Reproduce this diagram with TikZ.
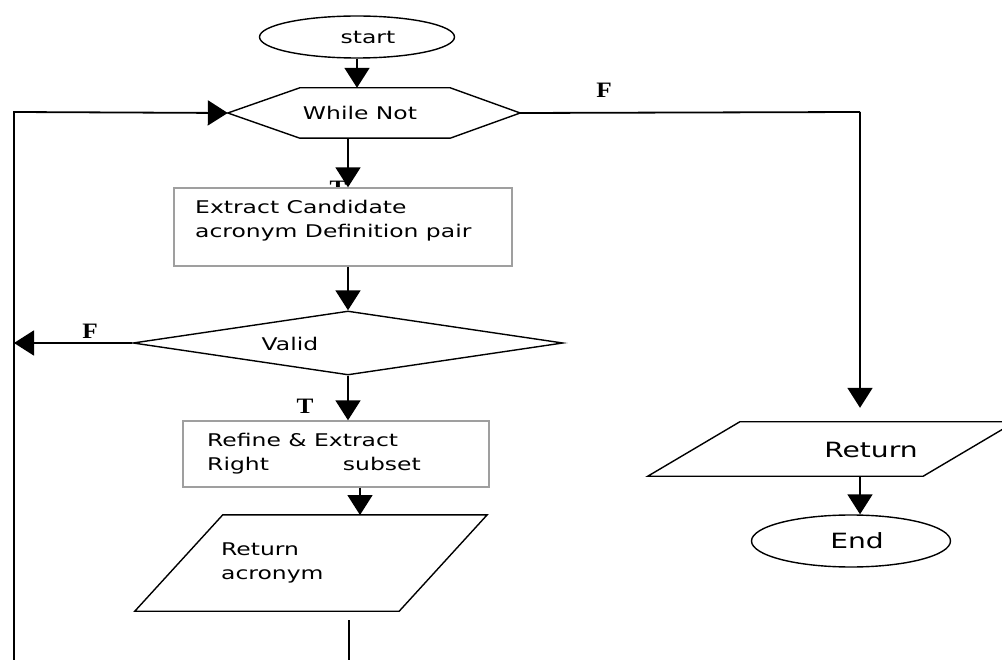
\documentclass[tikz,border=0pt]{standalone}
\usepackage{fontspec}
\setmainfont{DejaVu Sans}[FakeStretch=1.34]
\newfontfamily\tflabelfont{Liberation Serif}[FakeStretch=1.15]
\usetikzlibrary{shapes.geometric, arrows.meta, positioning}

\tikzset{
  flowline/.style={line width=1.8pt},
  flowarrow/.style={flowline, -{Triangle[length=20pt, width=25pt]}},
  outline/.style={line width=1.4pt, line join=miter},
  terminal/.style={ellipse, draw, line width=1.4pt, inner sep=0pt},
  procbox/.style={rectangle, draw=gray!75, line width=1.4pt, fill=white, inner sep=0pt},
  framebox/.style={rectangle, inner sep=0pt},
  txt/.style={font=\fontsize{17.5}{24}\selectfont, inner sep=0pt, align=left},
  bigtxt/.style={font=\fontsize{21}{26}\selectfont, inner sep=0pt},
  tflabel/.style={font=\tflabelfont\bfseries\fontsize{22}{22}\selectfont, inner sep=0pt}
}

\begin{document}
\begin{tikzpicture}[x=1pt, y=-1pt]
\useasboundingbox (0,0) rectangle (1002,660);

% branch labels
\node[tflabel] (tone) at (338,188) {T};
\node[tflabel] (fone) at (604,90) {F};
\node[tflabel] (ftwo) at (90,331) {F};
\node[tflabel] (ttwo) at (305,406) {T};

% shapes
\node[terminal, minimum width=195pt, minimum height=42pt] (start) at (357,37) {};
\node[txt] (starttxt) at (368,37) {start};
\node[framebox, minimum width=292pt, minimum height=50pt] (while) at (374,113) {};
\draw[outline] (while.west) -- ([xshift=72pt]while.north west) -- ([xshift=-70pt]while.north east)
  -- (while.east) -- ([xshift=-70pt]while.south east) -- ([xshift=72pt]while.south west) -- cycle;
\node[txt] (whiletxt) at (360,113) {While Not};

\node[procbox, minimum width=338pt, minimum height=78pt] (extract) at (343,227) {};
\node[txt, anchor=north west] (extracttxt) at (195,200) {Extract Candidate\\acronym Definition pair};

\node[diamond, draw, outline, inner sep=0pt, minimum width=430pt, minimum height=64pt] (valid) at (348,343) {};
\node[txt] (validtxt) at (290,344) {Valid};

\node[procbox, minimum width=306pt, minimum height=66pt] (refine) at (336,454) {};
\node[txt, anchor=north west] (refinetxt) at (207,433) {Refine \& Extract\\Right\hspace{74pt}subset};

\node[framebox, minimum width=352pt, minimum height=96pt] (retacr) at (311,563) {};
\draw[outline] (retacr.south west) -- ([xshift=88pt]retacr.north west) -- (retacr.north east)
  -- ([xshift=-88pt]retacr.south east) -- cycle;
\node[txt, anchor=north west] (retacrtxt) at (221,543) {Return\\acronym};

\node[framebox, minimum width=367pt, minimum height=54pt] (ret) at (831.5,449) {};
\draw[outline] (ret.south west) -- ([xshift=92pt]ret.north west) -- (ret.north east)
  -- ([xshift=-92pt]ret.south east) -- cycle;
\node[bigtxt] (rettxt) at (871,450) {Return};

\node[terminal, minimum width=199pt, minimum height=52pt] (end) at (851,541) {};
\node[bigtxt] (endtxt) at (857,541) {End};

% helper points
\coordinate (outcol) at (360,515);
\coordinate (loopstart) at (349,620);
\coordinate (loopleft) at (14,112);
\coordinate (rtop) at (860,112);

% connectors
\draw[flowarrow] (start.south) -- (while.north -| start.south);
\draw[flowarrow] (while.south -| valid.north) -- (extract.north -| valid.north);
\draw[flowarrow] (extract.south -| valid.north) -- (valid.north);
\draw[flowarrow] (valid.south) -- (refine.north -| valid.south);
\draw[flowarrow] (refine.south -| outcol) -- (outcol);
\draw[flowarrow] (valid.west) -- (valid.west -| loopleft);
\draw[flowarrow] (loopstart) -- ++(0,48) -| (loopleft) -- (while.west);
\draw[flowline] (while.east) -- (rtop);
\draw[flowarrow] (rtop) -- ([yshift=14pt]ret.north -| rtop);
\draw[flowarrow] (ret.south -| rtop) -- (end.north -| rtop);
\end{tikzpicture}
\end{document}
